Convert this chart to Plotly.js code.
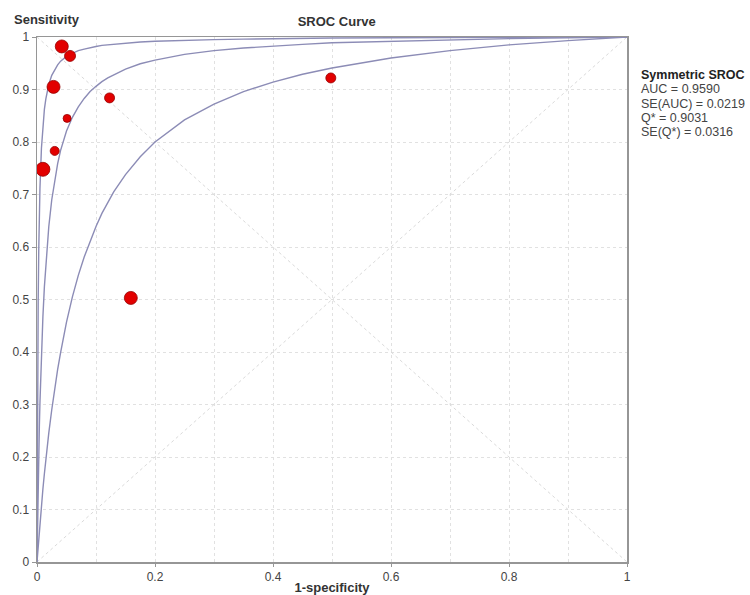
<!DOCTYPE html>
<html>
<head>
<meta charset="utf-8">
<script src="https://cdn.plot.ly/plotly-3.0.1.min.js"></script>
<style>html,body{margin:0;padding:0;background:#fff;}#chart{width:750px;height:595px;}</style>
</head>
<body>
<div id="chart"></div>
<script>
// Study points (1-specificity, sensitivity) and relative marker sizes
var studyFPR  = [0.042, 0.056, 0.028, 0.051, 0.123, 0.030, 0.010, 0.159, 0.498];
var studySens = [0.982, 0.964, 0.905, 0.845, 0.884, 0.783, 0.748, 0.503, 0.922];
var studySize = [13, 11, 13, 8, 10, 9, 14, 13, 10];

// SROC curves (shared x grid)
var curveFPR = [0, 0.00025, 0.0005, 0.001, 0.0015, 0.002, 0.003, 0.004, 0.005, 0.0075, 0.01, 0.0125, 0.015, 0.02, 0.025, 0.03, 0.035, 0.04, 0.05, 0.06, 0.07, 0.08, 0.09, 0.1, 0.11, 0.12, 0.13, 0.15, 0.175, 0.2, 0.25, 0.3, 0.35, 0.4, 0.45, 0.5, 0.6, 0.7, 0.8, 0.9, 1];
var curveUpper = [0, 0.110, 0.198, 0.330, 0.425, 0.497, 0.597, 0.664, 0.712, 0.788, 0.833, 0.862, 0.882, 0.910, 0.927, 0.938, 0.947, 0.954, 0.963, 0.969, 0.974, 0.977, 0.980, 0.982, 0.984, 0.985, 0.987, 0.989, 0.9905, 0.992, 0.994, 0.995, 0.996, 0.997, 0.9975, 0.998, 0.9986, 0.9991, 0.9995, 0.9998, 1];
var curveMid   = [0, 0.021, 0.042, 0.080, 0.115, 0.148, 0.207, 0.259, 0.304, 0.396, 0.467, 0.524, 0.569, 0.639, 0.690, 0.729, 0.759, 0.784, 0.821, 0.847, 0.867, 0.883, 0.896, 0.906, 0.915, 0.922, 0.928, 0.939, 0.949, 0.956, 0.967, 0.974, 0.979, 0.983, 0.986, 0.989, 0.992, 0.995, 0.997, 0.9987, 1];
var curveLower = [0, 0.004, 0.008, 0.016, 0.023, 0.031, 0.046, 0.060, 0.074, 0.108, 0.139, 0.168, 0.196, 0.246, 0.290, 0.331, 0.367, 0.399, 0.457, 0.505, 0.546, 0.581, 0.612, 0.639, 0.664, 0.685, 0.705, 0.738, 0.772, 0.800, 0.842, 0.872, 0.896, 0.914, 0.929, 0.941, 0.960, 0.974, 0.985, 0.993, 1];

// Reference diagonals
var diagX = [0, 1];
var diagUp = [0, 1];
var diagDown = [1, 0];

// Axis ticks
var yTicks = [0, 0.1, 0.2, 0.3, 0.4, 0.5, 0.6, 0.7, 0.8, 0.9, 1];
var yTickText = ['0', '0.1', '0.2', '0.3', '0.4', '0.5', '0.6', '0.7', '0.8', '0.9', '1'];
var xTicks = [0, 0.2, 0.4, 0.6, 0.8, 1];
var xTickText = ['0', '0.2', '0.4', '0.6', '0.8', '1'];

// Summary statistics
var statHeader = 'Symmetric SROC';
var statLabels = ['AUC', 'SE(AUC)', 'Q*', 'SE(Q*)'];
var statValues = ['0.9590', '0.0219', '0.9031', '0.0316'];

var curveColor = 'rgb(140,140,182)';
var diagStyle = {color: 'rgb(218,218,218)', width: 1, dash: 'dot'};

var traces = [
  {x: diagX, y: diagUp, mode: 'lines', line: diagStyle, hoverinfo: 'skip'},
  {x: diagX, y: diagDown, mode: 'lines', line: diagStyle, hoverinfo: 'skip'},
  {x: curveFPR, y: curveLower, mode: 'lines', line: {color: curveColor, width: 1.4}},
  {x: curveFPR, y: curveMid, mode: 'lines', line: {color: curveColor, width: 1.4}},
  {x: curveFPR, y: curveUpper, mode: 'lines', line: {color: curveColor, width: 1.4}},
  {x: studyFPR, y: studySens, mode: 'markers',
   marker: {size: studySize, color: 'rgb(226,0,0)', opacity: 1, line: {color: 'rgb(150,0,0)', width: 0.8}}}
];

// Stats block: one annotation per line, placed in pixel rows converted to paper units
var plotTop = 37, plotH = 525;
function pyToPaper(py) { return (plotTop + plotH - py) / plotH; }
var statLines = ['<b>' + statHeader + '</b>'];
for (var i = 0; i < statLabels.length; i++) statLines.push(statLabels[i] + ' = ' + statValues[i]);
var annotations = [
  {text: '<b>Sensitivity</b>', xref: 'paper', yref: 'paper', x: -0.042, y: 1.034,
   xanchor: 'left', yanchor: 'middle', showarrow: false, font: {size: 13, color: '#333'}}
];
for (var j = 0; j < statLines.length; j++) {
  annotations.push({text: statLines[j], xref: 'paper', yref: 'paper', x: 1.0195, y: pyToPaper(75 + j * 14.3),
    xanchor: 'left', yanchor: 'middle', align: 'left', showarrow: false,
    font: {size: 12.5, color: j === 0 ? '#222' : '#444'}});
}

var layout = {
  width: 750, height: 595,
  margin: {l: 37, r: 123, t: 37, b: 33},
  paper_bgcolor: '#fff', plot_bgcolor: '#fff',
  showlegend: false,
  font: {family: 'Liberation Sans, Arial, sans-serif', size: 12, color: '#333'},
  title: {text: '<b>SROC Curve</b>', font: {size: 13, color: '#333'},
          xref: 'paper', x: 0.508, xanchor: 'center', yref: 'container', y: 0.964, yanchor: 'middle'},
  xaxis: {
    range: [0, 1], tickvals: xTicks, ticktext: xTickText,
    showgrid: false, zeroline: false,
    showline: true, linecolor: 'rgb(150,150,150)', linewidth: 1.5, mirror: true,
    ticks: 'outside', ticklen: 3, tickcolor: 'rgb(150,150,150)',
    minor: {dtick: 0.1, tick0: 0, showgrid: true, gridcolor: 'rgb(225,225,225)', griddash: 'dot', gridwidth: 1},
    title: {text: '<b>1-specificity</b>', font: {size: 13, color: '#333'}, standoff: 0},
    tickfont: {size: 12, color: '#444'}
  },
  yaxis: {
    range: [0, 1], tickvals: yTicks, ticktext: yTickText,
    showgrid: true, gridcolor: 'rgb(225,225,225)', griddash: 'dot', gridwidth: 1,
    zeroline: false,
    showline: true, linecolor: 'rgb(150,150,150)', linewidth: 1.5, mirror: true,
    ticks: 'outside', ticklen: 4, tickcolor: 'rgb(150,150,150)',
    tickfont: {size: 12, color: '#444'}
  },
  annotations: annotations
};

Plotly.newPlot('chart', traces, layout, {displayModeBar: false, staticPlot: true});
</script>
</body>
</html>
